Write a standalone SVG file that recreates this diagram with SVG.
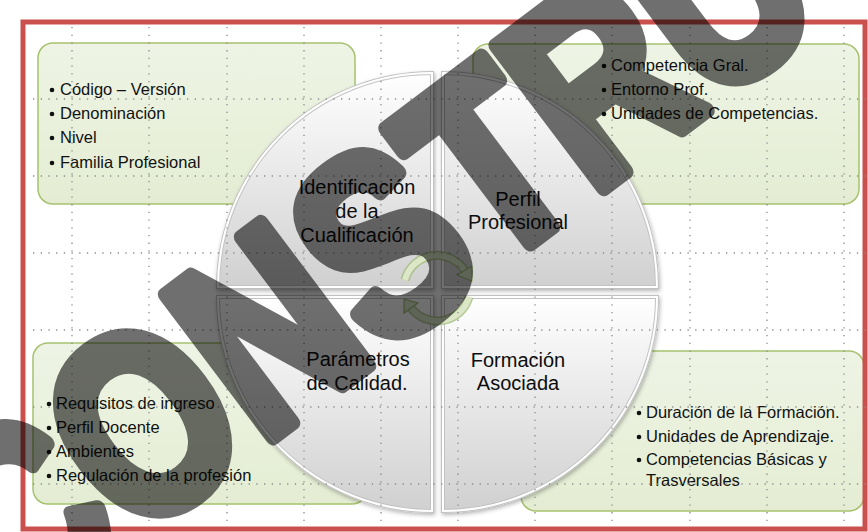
<svg xmlns="http://www.w3.org/2000/svg" width="868" height="532" viewBox="0 0 868 532">
<defs>
<linearGradient id="gBox" x1="0" y1="0" x2="0" y2="1">
<stop offset="0" stop-color="#eef4e5"/>
<stop offset="1" stop-color="#e4edd3"/>
</linearGradient>
<linearGradient id="gQuad" x1="0" y1="0" x2="0" y2="1">
<stop offset="0" stop-color="#ffffff"/>
<stop offset="1" stop-color="#d0d0d0"/>
</linearGradient>
<filter id="shadow" x="-10%" y="-10%" width="130%" height="130%">
<feDropShadow dx="1" dy="2" stdDeviation="2" flood-color="#000" flood-opacity="0.3"/>
</filter>
<style>
.box{fill:url(#gBox);stroke:#a7c26e;stroke-width:1.5}
.quad{fill:url(#gQuad);stroke:#c2c2c2;stroke-width:4;filter:url(#shadow)}
.rim{fill:none;stroke:#ffffff;stroke-width:2}
.lbl{font-family:"Liberation Sans",Arial,sans-serif;font-size:20px;fill:#0d0d0d;text-anchor:middle}
.itm{font-family:"Liberation Sans",Arial,sans-serif;font-size:16.5px;fill:#111}
.bul{fill:#111}
.grid line{stroke:#8c8c8c;stroke-width:1.3;stroke-dasharray:1.3 6.4}
.arrO{fill:none;stroke:#9fb97a;stroke-width:9;stroke-opacity:0.75}
.arrI{fill:none;stroke:#dbe7c6;stroke-width:6}
.head{fill:#dbe7c6;stroke:#9fb97a;stroke-width:1.2}
.wm{font-family:"Liberation Sans",Arial,sans-serif;font-weight:bold;font-size:207px;fill:#000;stroke:#000;stroke-width:13;stroke-linejoin:round;opacity:0.56}
</style>
</defs>
<rect width="868" height="532" fill="#ffffff"/>

<g id="box-identificacion">
<rect class="box" x="38" y="43" width="317" height="161" rx="15"/>
<circle class="bul" cx="52" cy="90" r="2.3"/>
<text class="itm" x="60" y="95">Código – Versión</text>
<circle class="bul" cx="52" cy="114" r="2.3"/>
<text class="itm" x="60" y="119">Denominación</text>
<circle class="bul" cx="52" cy="138" r="2.3"/>
<text class="itm" x="60" y="143">Nivel</text>
<circle class="bul" cx="52" cy="163" r="2.3"/>
<text class="itm" x="60" y="168">Familia Profesional</text>
</g>

<g id="box-perfil">
<rect class="box" x="473" y="44" width="386" height="160" rx="15"/>
<circle class="bul" cx="604" cy="66" r="2.3"/>
<text class="itm" x="611" y="71">Competencia Gral.</text>
<circle class="bul" cx="604" cy="90" r="2.3"/>
<text class="itm" x="611" y="95">Entorno Prof.</text>
<circle class="bul" cx="604" cy="114" r="2.3"/>
<text class="itm" x="611" y="119">Unidades de Competencias.</text>
</g>

<g id="box-parametros">
<rect class="box" x="33" y="343" width="334" height="161" rx="15"/>
<circle class="bul" cx="49" cy="404" r="2.3"/>
<text class="itm" x="56" y="409">Requisitos de ingreso</text>
<circle class="bul" cx="49" cy="428" r="2.3"/>
<text class="itm" x="56" y="433">Perfil Docente</text>
<circle class="bul" cx="49" cy="452" r="2.3"/>
<text class="itm" x="56" y="457">Ambientes</text>
<circle class="bul" cx="49" cy="476" r="2.3"/>
<text class="itm" x="56" y="481">Regulación de la profesión</text>
</g>

<g id="box-formacion">
<rect class="box" x="521" y="351" width="343" height="160" rx="15"/>
<circle class="bul" cx="639" cy="413" r="2.3"/>
<text class="itm" x="646" y="418">Duración de la Formación.</text>
<circle class="bul" cx="639" cy="437" r="2.3"/>
<text class="itm" x="646" y="442">Unidades de Aprendizaje.</text>
<circle class="bul" cx="639" cy="460" r="2.3"/>
<text class="itm" x="646" y="465">Competencias Básicas y</text>
<text class="itm" x="646" y="486">Trasversales</text>
</g>

<g id="quad-identificacion">
<path class="quad" d="M432,287 L218,287 A214,214 0 0 1 432,73 Z"/>
<path class="rim" d="M432,287 L218,287 A214,214 0 0 1 432,73 Z"/>
<text class="lbl" x="357" y="194">Identificación</text>
<text class="lbl" x="357" y="218">de la</text>
<text class="lbl" x="357" y="242">Cualificación</text>
</g>

<g id="quad-perfil">
<path class="quad" d="M443,287 L443,73 A214,214 0 0 1 657,287 Z"/>
<path class="rim" d="M443,287 L443,73 A214,214 0 0 1 657,287 Z"/>
<text class="lbl" x="518" y="206">Perfil</text>
<text class="lbl" x="518" y="229">Profesional</text>
</g>

<g id="quad-parametros">
<path class="quad" d="M432,297 L432,511 A214,214 0 0 1 218,297 Z"/>
<path class="rim" d="M432,297 L432,511 A214,214 0 0 1 218,297 Z"/>
<text class="lbl" x="358" y="366">Parámetros</text>
<text class="lbl" x="357" y="390">de Calidad.</text>
</g>

<g id="quad-formacion">
<path class="quad" d="M443,297 L657,297 A214,214 0 0 1 443,511 Z"/>
<path class="rim" d="M443,297 L657,297 A214,214 0 0 1 443,511 Z"/>
<text class="lbl" x="518" y="367">Formación</text>
<text class="lbl" x="518" y="390">Asociada</text>
</g>

<g id="connectors">
<path class="arrO" d="M405,280 A33,33 0 0 1 465,271"/>
<path class="arrI" d="M405,280 A33,33 0 0 1 465,271"/>
<polygon class="head" points="472,281 472,266 457,275"/>
<path class="arrO" d="M469,297 A33,33 0 0 1 411,308"/>
<path class="arrI" d="M469,297 A33,33 0 0 1 411,308"/>
<polygon class="head" points="404,299 404,313 418,303"/>
</g>

<rect x="23" y="22" width="842" height="507" fill="none" stroke="#c9504d" stroke-width="5"/>

<g class="grid">
<line x1="72" y1="27" x2="72" y2="527"/>
<line x1="149" y1="27" x2="149" y2="527"/>
<line x1="227" y1="27" x2="227" y2="527"/>
<line x1="304" y1="27" x2="304" y2="527"/>
<line x1="381" y1="27" x2="381" y2="527"/>
<line x1="458" y1="27" x2="458" y2="527"/>
<line x1="535" y1="27" x2="535" y2="527"/>
<line x1="612" y1="27" x2="612" y2="527"/>
<line x1="690" y1="27" x2="690" y2="527"/>
<line x1="767" y1="27" x2="767" y2="527"/>
<line x1="844" y1="27" x2="844" y2="527"/>
<line x1="33" y1="99" x2="868" y2="99"/>
<line x1="33" y1="176" x2="868" y2="176"/>
<line x1="33" y1="253" x2="868" y2="253"/>
<line x1="33" y1="330" x2="868" y2="330"/>
<line x1="33" y1="407" x2="868" y2="407"/>
<line x1="33" y1="484" x2="868" y2="484"/>
</g>

<text class="wm" transform="translate(13,633) rotate(-37) scale(1.0,1.25)">CONSTRU</text>
</svg>
